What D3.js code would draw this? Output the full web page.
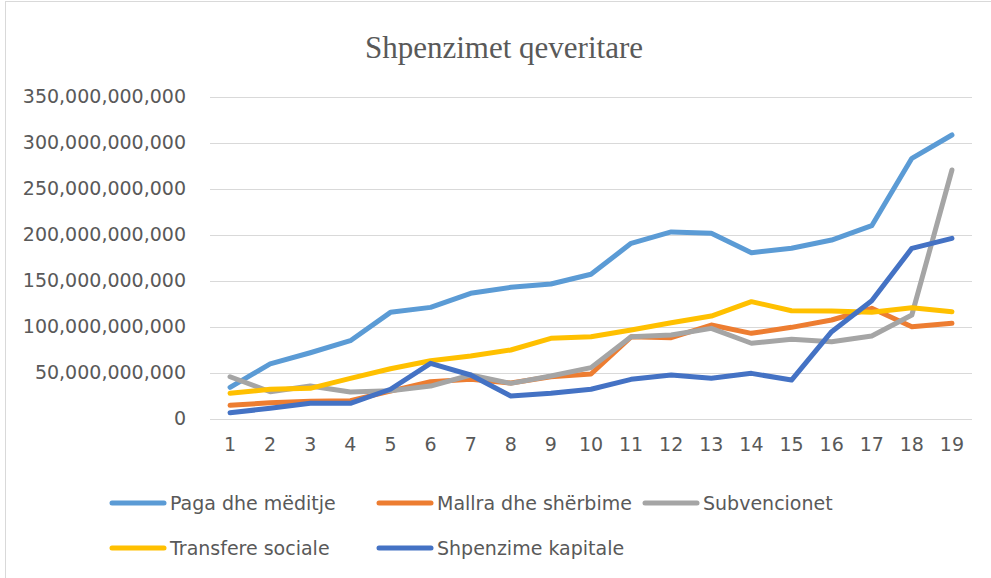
<!DOCTYPE html>
<html>
<head>
<meta charset="utf-8">
<script src="https://cdn.jsdelivr.net/npm/d3@7"></script>
<style>
  html, body { margin: 0; padding: 0; background: #fff; }
  svg { display: block; }
</style>
</head>
<body>
<svg id="chart" width="991" height="578"></svg>
<script>
const title = "Shpenzimet qeveritare";
const categories = [1,2,3,4,5,6,7,8,9,10,11,12,13,14,15,16,17,18,19];
const yTicks = [0, 50e9, 100e9, 150e9, 200e9, 250e9, 300e9, 350e9];

const seriesNames = ["Paga dhe mëditje", "Mallra dhe shërbime", "Subvencionet", "Transfere sociale", "Shpenzime kapitale"];
const seriesColors = ["#5B9BD5", "#ED7D31", "#A5A5A5", "#FFC000", "#4472C4"];

const pagaDheMeditje = [34.1e9, 59.5e9, 71.7e9, 84.8e9, 115.6e9, 121e9, 136.3e9, 142.8e9, 146.4e9, 157e9, 190.6e9, 203e9, 201.5e9, 180.4e9, 185.2e9, 194.2e9, 209.8e9, 283e9, 308.4e9];
const mallraDheSherbime = [14.5e9, 17.4e9, 18.9e9, 19.6e9, 30e9, 40.2e9, 42.8e9, 38.8e9, 45.6e9, 48.6e9, 89e9, 88e9, 101.8e9, 92.8e9, 99.3e9, 107.3e9, 120e9, 100e9, 103.7e9];
const subvencionet = [45.6e9, 29.3e9, 35.5e9, 29e9, 30.4e9, 35.5e9, 47.5e9, 38.4e9, 46.4e9, 55.5e9, 89e9, 91e9, 98.2e9, 82e9, 86.3e9, 83.7e9, 89.9e9, 112.7e9, 270.3e9];
const transfereSociale = [27.6e9, 32e9, 33e9, 43.9e9, 54.3e9, 63e9, 68.2e9, 74.7e9, 87.4e9, 89.1e9, 96.4e9, 104.3e9, 111.6e9, 127.2e9, 117.4e9, 117e9, 115.6e9, 120.7e9, 116.3e9];
const shpenzimeKapitale = [6.5e9, 11.3e9, 16.7e9, 16.7e9, 32e9, 60.2e9, 47.5e9, 24.7e9, 27.6e9, 32e9, 42.8e9, 47.5e9, 43.9e9, 49.3e9, 42e9, 94.6e9, 128.3e9, 185.2e9, 196e9];

const seriesValues = [pagaDheMeditje, mallraDheSherbime, subvencionet, transfereSociale, shpenzimeKapitale];

const svg = d3.select("#chart");
const textColor = "#595959";
const font = "'DejaVu Sans', sans-serif";

// chart area border
svg.append("rect")
  .attr("x", 5.5).attr("y", 1.5)
  .attr("width", 1000).attr("height", 600)
  .attr("fill", "#fff").attr("stroke", "#D9D9D9").attr("stroke-width", 1);

// title
svg.append("text")
  .attr("x", 504).attr("y", 58)
  .attr("text-anchor", "middle")
  .attr("font-family", "'Liberation Serif', 'Times New Roman', serif")
  .attr("font-size", 31)
  .attr("fill", textColor)
  .text(title);

const x = d3.scaleBand().domain(categories).range([210, 972]);
const y = d3.scaleLinear().domain([0, 350e9]).range([418.7, 96.7]);
const cx = d => x(d) + x.bandwidth() / 2;

// gridlines
svg.append("g")
  .selectAll("line")
  .data(yTicks)
  .join("line")
  .attr("x1", 210).attr("x2", 972)
  .attr("y1", d => Math.round(y(d)) + 0.5)
  .attr("y2", d => Math.round(y(d)) + 0.5)
  .attr("stroke", "#D9D9D9").attr("stroke-width", 1);

// y axis labels
const yAxis = d3.axisLeft(y).tickValues(yTicks).tickFormat(d3.format(",")).tickSize(0).tickPadding(0);
const yg = svg.append("g").attr("transform", "translate(186,0)").call(yAxis);
yg.select(".domain").remove();
yg.selectAll("text")
  .attr("font-family", font).attr("font-size", 19).attr("fill", textColor);

// x axis labels
const xAxis = d3.axisBottom(x).tickSize(0).tickPadding(0);
const xg = svg.append("g").attr("transform", "translate(0,437)").call(xAxis);
xg.select(".domain").remove();
xg.selectAll("text")
  .attr("font-family", font).attr("font-size", 19).attr("fill", textColor);

// lines
const line = d3.line().x((d, i) => cx(categories[i])).y(d => y(d));
svg.append("g")
  .selectAll("path")
  .data(seriesValues)
  .join("path")
  .attr("d", d => line(d))
  .attr("fill", "none")
  .attr("stroke", (d, i) => seriesColors[i])
  .attr("stroke-width", 5)
  .attr("stroke-linejoin", "round")
  .attr("stroke-linecap", "round");

// legend
const legendPos = [[110, 503], [377, 503], [643, 503], [110, 548], [377, 548]];
const lg = svg.append("g")
  .selectAll("g")
  .data(seriesNames)
  .join("g")
  .attr("transform", (d, i) => `translate(${legendPos[i][0]},${legendPos[i][1]})`);
lg.append("line")
  .attr("x1", 2).attr("x2", 54).attr("y1", 0).attr("y2", 0)
  .attr("stroke", (d, i) => seriesColors[i])
  .attr("stroke-width", 5).attr("stroke-linecap", "round");
lg.append("text")
  .attr("x", 60).attr("y", 0).attr("dy", "0.35em")
  .attr("font-family", font).attr("font-size", 19).attr("fill", textColor)
  .text(d => d);
</script>
</body>
</html>
